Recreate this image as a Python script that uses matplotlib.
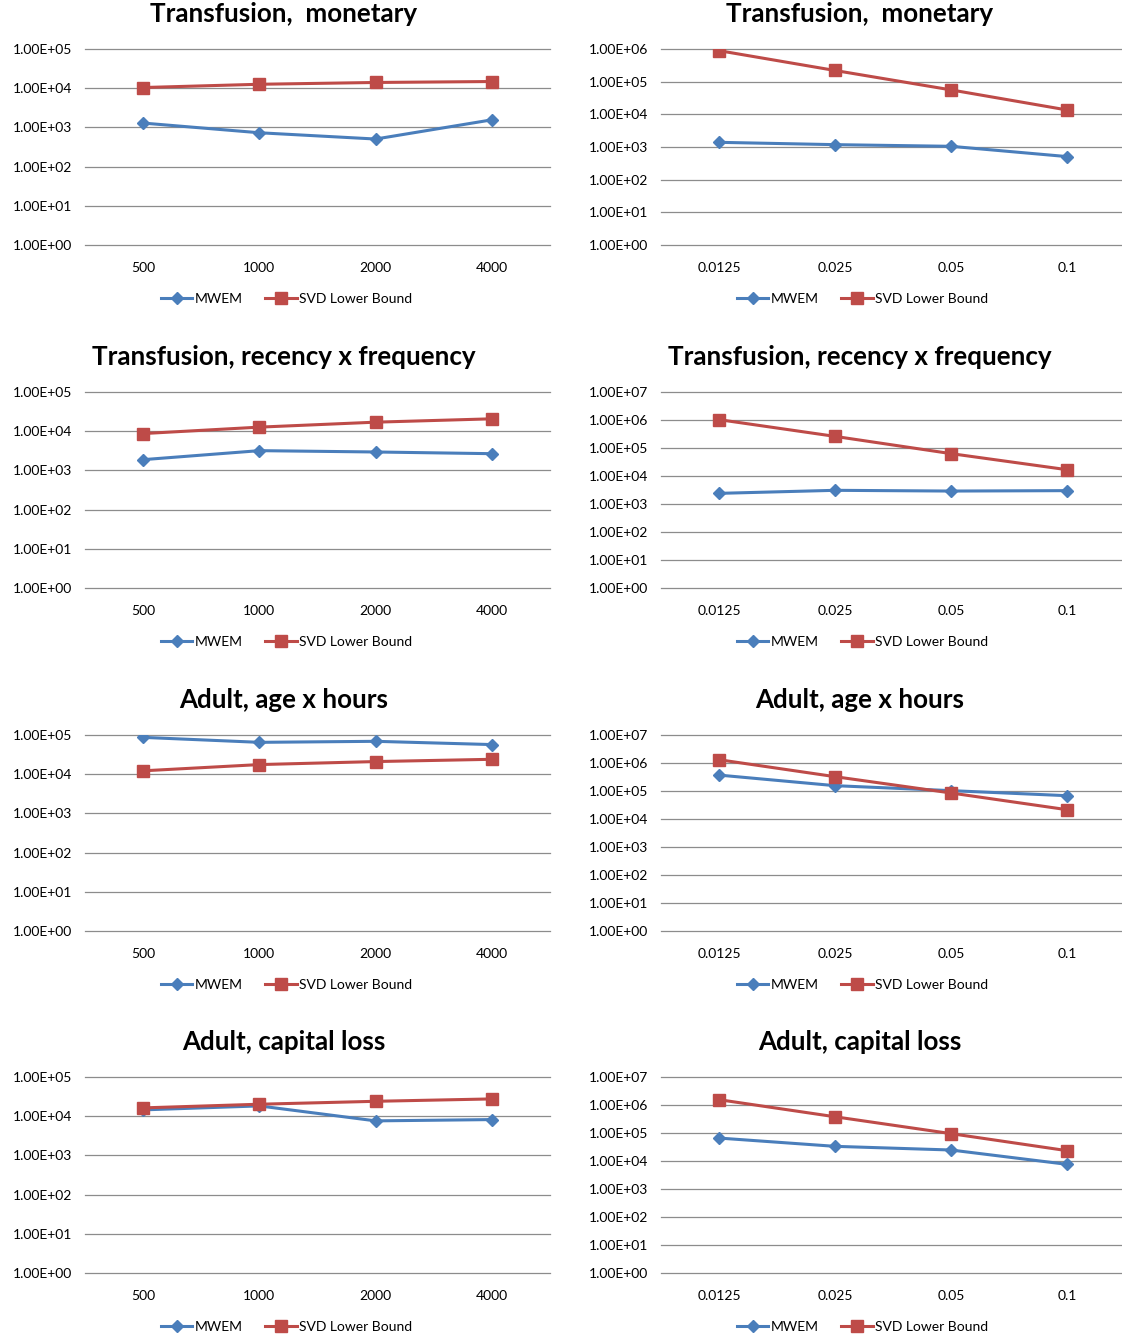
import matplotlib.pyplot as plt
from matplotlib.ticker import LogLocator, FuncFormatter, NullLocator

FONT = "Lato"
BLUE = "#4A7EBB"
RED = "#BE4B48"
GRID = "#8C8C8C"

# category labels
n_labels = ["500", "1000", "2000", "4000"]
eps_labels = ["0.0125", "0.025", "0.05", "0.1"]

titles = ["Transfusion,  monetary", "Transfusion, recency x frequency",
          "Adult, age x hours", "Adult, capital loss"]

# left column: varying n
mwem_n_monetary = [1290, 730, 505, 1560]
svd_n_monetary = [10400, 12600, 14000, 14800]
mwem_n_recfreq = [1880, 3190, 2950, 2670]
svd_n_recfreq = [8700, 12700, 17000, 20700]
mwem_n_agehours = [87000, 65000, 69000, 57000]
svd_n_agehours = [12200, 17600, 21000, 24000]
mwem_n_caploss = [14500, 18300, 7600, 8200]
svd_n_caploss = [16300, 20200, 24000, 27600]

# right column: varying epsilon
mwem_eps_monetary = [1390, 1180, 1050, 509]
svd_eps_monetary = [890000, 220000, 56000, 13600]
mwem_eps_recfreq = [2400, 3080, 2900, 3000]
svd_eps_recfreq = [1030000, 260000, 63000, 16800]
mwem_eps_agehours = [370000, 155000, 103000, 68000]
svd_eps_agehours = [1310000, 325000, 85000, 21500]
mwem_eps_caploss = [66000, 33400, 24700, 7600]
svd_eps_caploss = [1550000, 380000, 95000, 23400]

left_mwem = [mwem_n_monetary, mwem_n_recfreq, mwem_n_agehours, mwem_n_caploss]
left_svd = [svd_n_monetary, svd_n_recfreq, svd_n_agehours, svd_n_caploss]
right_mwem = [mwem_eps_monetary, mwem_eps_recfreq, mwem_eps_agehours, mwem_eps_caploss]
right_svd = [svd_eps_monetary, svd_eps_recfreq, svd_eps_agehours, svd_eps_caploss]
right_ymax = [1e6, 1e7, 1e7, 1e7]

W, H = 1122, 1340
fig = plt.figure(figsize=(W / 100, H / 100), dpi=100)


def fmt(v, pos):
    return f"{v:.2E}"


def draw(ax, labels, mwem, svd, ymax, title, cx, row_top):
    x = list(range(len(labels)))
    ax.plot(x, mwem, color=BLUE, linewidth=2.2, marker="D", markersize=6.5,
            label="MWEM", zorder=3)
    ax.plot(x, svd, color=RED, linewidth=2.2, marker="s", markersize=8,
            label="SVD Lower Bound", zorder=3)
    ax.set_yscale("log")
    ax.set_ylim(1, ymax)
    ax.set_xlim(-0.5, len(labels) - 0.5)
    ax.yaxis.set_major_locator(LogLocator(base=10, numticks=20))
    ax.yaxis.set_minor_locator(NullLocator())
    ax.yaxis.set_major_formatter(FuncFormatter(fmt))
    ax.set_xticks(x)
    ax.set_xticklabels(labels)
    ax.grid(axis="y", color=GRID, linewidth=0.9)
    for gl in ax.get_ygridlines():
        gl.set_clip_on(False)
    ax.set_axisbelow(True)
    for s in ax.spines.values():
        s.set_visible(False)
    ax.tick_params(length=0, labelsize=10)
    ax.tick_params(axis="y", pad=9)
    ax.tick_params(axis="x", pad=12)
    for t in ax.get_xticklabels() + ax.get_yticklabels():
        t.set_fontfamily(FONT)
    fig.text(cx / W, 1 - (row_top - 35) / H, title, ha="center", va="center",
             fontsize=18.7, fontweight="bold", family=FONT)
    ax.legend(loc="center", bbox_to_anchor=(cx / W + 0.002, 1 - (row_top + 250) / H),
              bbox_transform=fig.transFigure, ncol=2, frameon=False,
              prop={"family": FONT, "size": 10}, handlelength=2.3,
              handletextpad=0.15, columnspacing=1.6)


row_tops = [49, 392, 735, 1077]
for i, top in enumerate(row_tops):
    h = 196
    b = 1 - (top + h) / H
    axl = fig.add_axes([85 / W, b, 465 / W, h / H])
    draw(axl, n_labels, left_mwem[i], left_svd[i], 1e5, titles[i], 284, top)
    axr = fig.add_axes([661 / W, b, 464 / W, h / H])
    draw(axr, eps_labels, right_mwem[i], right_svd[i], right_ymax[i], titles[i], 860, top)

fig.savefig("out.png", dpi=100)
